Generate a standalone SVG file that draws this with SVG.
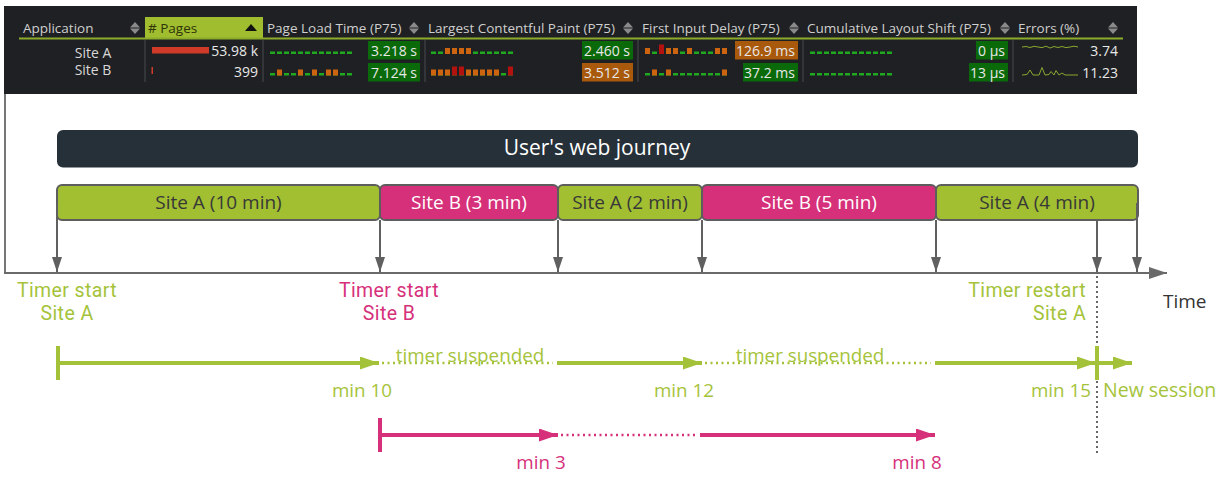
<svg xmlns="http://www.w3.org/2000/svg" width="1220" height="479" viewBox="0 0 1220 479">
<style>
text { font-family: "Open Sans", "Noto Sans", "DejaVu Sans", sans-serif; }
.hdr { font-size: 13.5px; fill: #cfcfcf; }
.hdr-sel { font-size: 13.5px; fill: #2e3308; }
.row { font-size: 14px; fill: #d8d8d8; }
.val { font-size: 14px; fill: #e8e8e8; }
.sep { stroke: #3c3d40; stroke-width: 1.5; }
.dia { fill: #8a8a8a; }
.gdash { stroke: #21a821; stroke-width: 2.5; stroke-dasharray: 5 2; fill: none; }
.o { fill: #cc6410; }
.r { fill: #b3120e; }
.bg { fill: #0a6a0a; }
.bo { fill: #a8590c; }
.seg { stroke: #5d5d5d; stroke-width: 2; }
.segA { fill: #a1bf31; }
.segB { fill: #d6307b; }
.segtxt { font-size: 19px; text-anchor: middle; }
.dk { fill: #383838; }
.wt { fill: #ffffff; }
.conn { stroke: #606060; stroke-width: 2; fill: none; }
.lg { font-size: 18.8px; fill: #a5c33a; }
.lm { font-size: 18.8px; fill: #d6307b; }
.big { font-size: 19.5px; }
.two { font-family: Roboto, "Open Sans", sans-serif; font-size: 19.5px; letter-spacing: 0.4px; }
.tg { stroke: #a3c23a; stroke-width: 4; fill: none; }
.tm { stroke: #d6307b; stroke-width: 4; fill: none; }
.dotg { stroke: #a3c23a; stroke-width: 2.5; stroke-dasharray: 2 3.5; fill: none; }
.dotm { stroke: #d6307b; stroke-width: 2.5; stroke-dasharray: 2 3.5; fill: none; }
</style>
<defs>
<marker id="arrGray" viewBox="0 0 15 10" refX="15" refY="5" markerWidth="15" markerHeight="10" markerUnits="userSpaceOnUse" orient="auto"><path d="M0,0 L15,5 L0,10 z" fill="#606060"/></marker>
<marker id="arrAxis" viewBox="0 0 18 12" refX="18" refY="6" markerWidth="18" markerHeight="12" markerUnits="userSpaceOnUse" orient="auto"><path d="M0,0 L18,6 L0,12 z" fill="#6a6a6a"/></marker>
<marker id="arrG" viewBox="0 0 19 13" refX="19" refY="6.5" markerWidth="19" markerHeight="13" markerUnits="userSpaceOnUse" orient="auto"><path d="M0,0 L19,6.5 L0,13 z" fill="#a3c23a"/></marker>
<marker id="arrM" viewBox="0 0 19 13" refX="19" refY="6.5" markerWidth="19" markerHeight="13" markerUnits="userSpaceOnUse" orient="auto"><path d="M0,0 L19,6.5 L0,13 z" fill="#d6307b"/></marker>
</defs>
<rect width="1220" height="479" fill="#ffffff"/>

<g id="dashboard-table">
<rect x="4" y="6" width="1133" height="88" fill="#1f2023"/>
<rect x="145" y="17" width="118" height="21" fill="#9fbd2f"/>
<line x1="19" y1="38.5" x2="1123" y2="38.5" stroke="#8cab2a" stroke-width="2"/>
<text class="hdr" x="23" y="33">Application</text>
<text class="hdr-sel" x="148" y="33"># Pages</text>
<text class="hdr" x="267" y="33">Page Load Time (P75)</text>
<text class="hdr" x="428" y="33">Largest Contentful Paint (P75)</text>
<text class="hdr" x="642" y="33">First Input Delay (P75)</text>
<text class="hdr" x="807" y="33">Cumulative Layout Shift (P75)</text>
<text class="hdr" x="1018" y="33">Errors (%)</text>
<path class="dia" d="M135,22 L140,27.5 L130,27.5 z M135,34 L140,28.5 L130,28.5 z"/>
<path d="M251,24 L257,31 L245,31 z" fill="#111111"/>
<path class="dia" d="M414,22 L419,27.5 L409,27.5 z M414,34 L419,28.5 L409,28.5 z"/>
<path class="dia" d="M628,22 L633,27.5 L623,27.5 z M628,34 L633,28.5 L623,28.5 z"/>
<path class="dia" d="M794,22 L799,27.5 L789,27.5 z M794,34 L799,28.5 L789,28.5 z"/>
<path class="dia" d="M1005,22 L1010,27.5 L1000,27.5 z M1005,34 L1010,28.5 L1000,28.5 z"/>
<path class="dia" d="M1113,22 L1118,27.5 L1108,27.5 z M1113,34 L1118,28.5 L1108,28.5 z"/>
<line class="sep" x1="145" y1="40" x2="145" y2="82"/>
<line class="sep" x1="263" y1="40" x2="263" y2="82"/>
<line class="sep" x1="425" y1="40" x2="425" y2="82"/>
<line class="sep" x1="638" y1="40" x2="638" y2="82"/>
<line class="sep" x1="803" y1="40" x2="803" y2="82"/>
<line class="sep" x1="1013" y1="40" x2="1013" y2="82"/>
<text class="row" x="93" y="58" text-anchor="middle">Site A</text>
<text class="row" x="93" y="75" text-anchor="middle">Site B</text>
<rect x="152" y="47" width="57" height="6.5" fill="#d03a28"/>
<rect x="151.5" y="67" width="1.5" height="7" fill="#d03a28"/>
<text class="val" x="258" y="56" text-anchor="end">53.98 k</text>
<text class="val" x="258" y="77" text-anchor="end">399</text>
<line class="gdash" x1="270" y1="52.75" x2="352" y2="52.75"/>
<line class="gdash" x1="270" y1="74.25" x2="352" y2="74.25"/>
<rect class="o" x="277" y="69.5" width="5" height="6"/>
<rect class="o" x="298" y="69.5" width="5" height="6"/>
<rect class="o" x="312" y="69.5" width="5" height="6"/>
<rect class="o" x="326" y="69.5" width="5" height="6"/>
<rect class="o" x="333" y="69.5" width="5" height="6"/>
<rect class="bg" x="368" y="41" width="52" height="18.5"/>
<rect class="bg" x="368" y="63" width="52" height="18.5"/>
<text class="val" x="417" y="56" text-anchor="end">3.218 s</text>
<text class="val" x="417" y="77.5" text-anchor="end">7.124 s</text>
<line class="gdash" x1="431" y1="52.75" x2="513" y2="52.75"/>
<line class="gdash" x1="431" y1="74.25" x2="513" y2="74.25"/>
<rect class="o" x="445" y="48" width="5" height="6"/>
<rect class="o" x="452" y="48" width="5" height="6"/>
<rect class="o" x="459" y="48" width="5" height="6"/>
<rect class="o" x="466" y="48" width="5" height="6"/>
<rect class="o" x="431" y="69.5" width="5" height="6"/>
<rect class="o" x="438" y="69.5" width="5" height="6"/>
<rect class="o" x="445" y="69.5" width="5" height="6"/>
<rect class="r" x="452" y="66.5" width="5" height="9"/>
<rect class="r" x="459" y="66.5" width="5" height="9"/>
<rect class="o" x="466" y="69.5" width="5" height="6"/>
<rect class="o" x="473" y="69.5" width="5" height="6"/>
<rect class="o" x="480" y="69.5" width="5" height="6"/>
<rect class="o" x="487" y="69.5" width="5" height="6"/>
<rect class="o" x="494" y="69.5" width="5" height="6"/>
<rect class="r" x="508" y="66.5" width="5" height="9"/>
<rect class="bg" x="582" y="41" width="51" height="18.5"/>
<rect class="bo" x="582" y="63" width="51" height="18.5"/>
<text class="val" x="630" y="56" text-anchor="end">2.460 s</text>
<text class="val" x="630" y="77.5" text-anchor="end">3.512 s</text>
<line class="gdash" x1="645" y1="52.75" x2="727" y2="52.75"/>
<line class="gdash" x1="645" y1="74.25" x2="727" y2="74.25"/>
<rect class="o" x="645" y="48" width="5" height="6"/>
<rect class="r" x="659" y="44.5" width="5" height="9.5"/>
<rect class="o" x="666" y="48" width="5" height="6"/>
<rect class="o" x="673" y="48" width="5" height="6"/>
<rect class="o" x="687" y="48" width="5" height="6"/>
<rect class="o" x="715" y="48" width="5" height="6"/>
<rect class="o" x="722" y="48" width="5" height="6"/>
<rect class="o" x="652" y="69.5" width="5" height="6"/>
<rect class="o" x="666" y="69.5" width="5" height="6"/>
<rect class="o" x="722" y="69.5" width="5" height="6"/>
<rect class="bo" x="735" y="41" width="63" height="18.5"/>
<rect class="bg" x="743" y="63" width="55" height="18.5"/>
<text class="val" x="795" y="56" text-anchor="end">126.9 ms</text>
<text class="val" x="795" y="77.5" text-anchor="end">37.2 ms</text>
<line class="gdash" x1="810" y1="52.75" x2="892" y2="52.75"/>
<line class="gdash" x1="810" y1="74.25" x2="892" y2="74.25"/>
<rect class="bg" x="976" y="41" width="32" height="18.5"/>
<rect class="bg" x="969" y="63" width="39" height="18.5"/>
<text class="val" x="1005" y="56" text-anchor="end">0 μs</text>
<text class="val" x="1005" y="77.5" text-anchor="end">13 μs</text>
<polyline points="1022,47 1026,46.5 1030,47.5 1034,46.3 1038,47 1042,47.6 1046,46.2 1050,48 1054,46.5 1058,47.5 1062,46.5 1066,47.6 1070,47 1074,46.2 1078,47" fill="none" stroke="#8aa830" stroke-width="1"/>
<polyline points="1022,75 1027,74.5 1030,70 1033,75 1039,75 1042,67.5 1045,75 1049,74.5 1051,71.5 1054,75 1056,70.5 1059,75 1062,73 1065,75 1078,75" fill="none" stroke="#8aa830" stroke-width="1"/>
<text class="val" x="1118" y="56" text-anchor="end">3.74</text>
<text class="val" x="1118" y="77.5" text-anchor="end">11.23</text>
</g>

<g id="journey">
<rect x="57" y="130" width="1081" height="37.5" rx="6" fill="#263038"/>
<text x="597" y="155" text-anchor="middle" font-size="21" fill="#ffffff">User's web journey</text>
</g>

<g id="seg-a-10">
<rect class="seg segA" x="57" y="185" width="323" height="35" rx="5"/>
<text class="segtxt dk" x="218.5" y="209">Site A (10 min)</text>
</g>
<g id="seg-b-3">
<rect class="seg segB" x="380" y="185" width="178" height="35" rx="5"/>
<text class="segtxt wt" x="469" y="209">Site B (3 min)</text>
</g>
<g id="seg-a-2">
<rect class="seg segA" x="558" y="185" width="144" height="35" rx="5"/>
<text class="segtxt dk" x="630" y="209">Site A (2 min)</text>
</g>
<g id="seg-b-5">
<rect class="seg segB" x="702" y="185" width="234" height="35" rx="5"/>
<text class="segtxt wt" x="819" y="209">Site B (5 min)</text>
</g>
<g id="seg-a-4">
<rect class="seg segA" x="936" y="185" width="202" height="35" rx="5"/>
<text class="segtxt dk" x="1037" y="209">Site A (4 min)</text>
</g>

<g id="connectors">
<line x1="5" y1="94" x2="5" y2="273" stroke="#777777" stroke-width="2"/>
<line x1="4" y1="273" x2="1167" y2="273" stroke="#6a6a6a" stroke-width="2" marker-end="url(#arrAxis)"/>
<line class="conn" x1="57" y1="205" x2="57" y2="272" marker-end="url(#arrGray)"/>
<line class="conn" x1="380" y1="220" x2="380" y2="272" marker-end="url(#arrGray)"/>
<line class="conn" x1="558" y1="220" x2="558" y2="272" marker-end="url(#arrGray)"/>
<line class="conn" x1="702" y1="220" x2="702" y2="272" marker-end="url(#arrGray)"/>
<line class="conn" x1="936" y1="220" x2="936" y2="272" marker-end="url(#arrGray)"/>
<line class="conn" x1="1097" y1="220" x2="1097" y2="272" marker-end="url(#arrGray)"/>
<line class="conn" x1="1137" y1="203" x2="1137" y2="272" marker-end="url(#arrGray)"/>
<line x1="1097" y1="276" x2="1097" y2="453" stroke="#666666" stroke-width="2" stroke-dasharray="2 3"/>
</g>

<g id="axis-labels">
<text x="1163" y="308" font-size="19" fill="#333333">Time</text>
<text class="lg two" text-anchor="middle"><tspan x="67" y="297">Timer start</tspan><tspan x="67" y="320">Site A</tspan></text>
<text class="lm two" text-anchor="middle"><tspan x="389" y="297">Timer start</tspan><tspan x="389" y="320">Site B</tspan></text>
<text class="lg two" text-anchor="end"><tspan x="1086" y="297">Timer restart</tspan><tspan x="1086" y="320">Site A</tspan></text>
</g>

<g id="timer-site-a">
<line class="tg" x1="58" y1="346" x2="58" y2="380" stroke-width="3"/>
<line class="tg" x1="58" y1="363" x2="379" y2="363" marker-end="url(#arrG)"/>
<line class="dotg" x1="382" y1="363" x2="553" y2="363"/>
<text class="lg" x="470" y="361.5" text-anchor="middle">timer suspended</text>
<line class="tg" x1="557" y1="363" x2="702" y2="363" marker-end="url(#arrG)"/>
<line class="dotg" x1="705" y1="363" x2="931" y2="363"/>
<text class="lg" x="810" y="361.5" text-anchor="middle">timer suspended</text>
<line class="tg" x1="935" y1="363" x2="1096" y2="363" marker-end="url(#arrG)"/>
<line class="tg" x1="1097" y1="346" x2="1097" y2="380" stroke-width="3"/>
<line class="tg" x1="1097" y1="363" x2="1132" y2="363" marker-end="url(#arrG)"/>
<text class="lg" x="362" y="397" text-anchor="middle">min 10</text>
<text class="lg" x="684" y="397" text-anchor="middle">min 12</text>
<text class="lg" x="1091" y="397" text-anchor="end">min 15</text>
<text class="lg big" x="1103" y="397">New session</text>
</g>

<g id="timer-site-b">
<line class="tm" x1="380" y1="418" x2="380" y2="452" stroke-width="3"/>
<line class="tm" x1="380" y1="435" x2="558" y2="435" marker-end="url(#arrM)"/>
<line class="dotm" x1="561" y1="435" x2="695" y2="435"/>
<line class="tm" x1="700" y1="435" x2="935" y2="435" marker-end="url(#arrM)"/>
<text class="lm" x="541" y="469" text-anchor="middle">min 3</text>
<text class="lm" x="917" y="469" text-anchor="middle">min 8</text>
</g>
</svg>
